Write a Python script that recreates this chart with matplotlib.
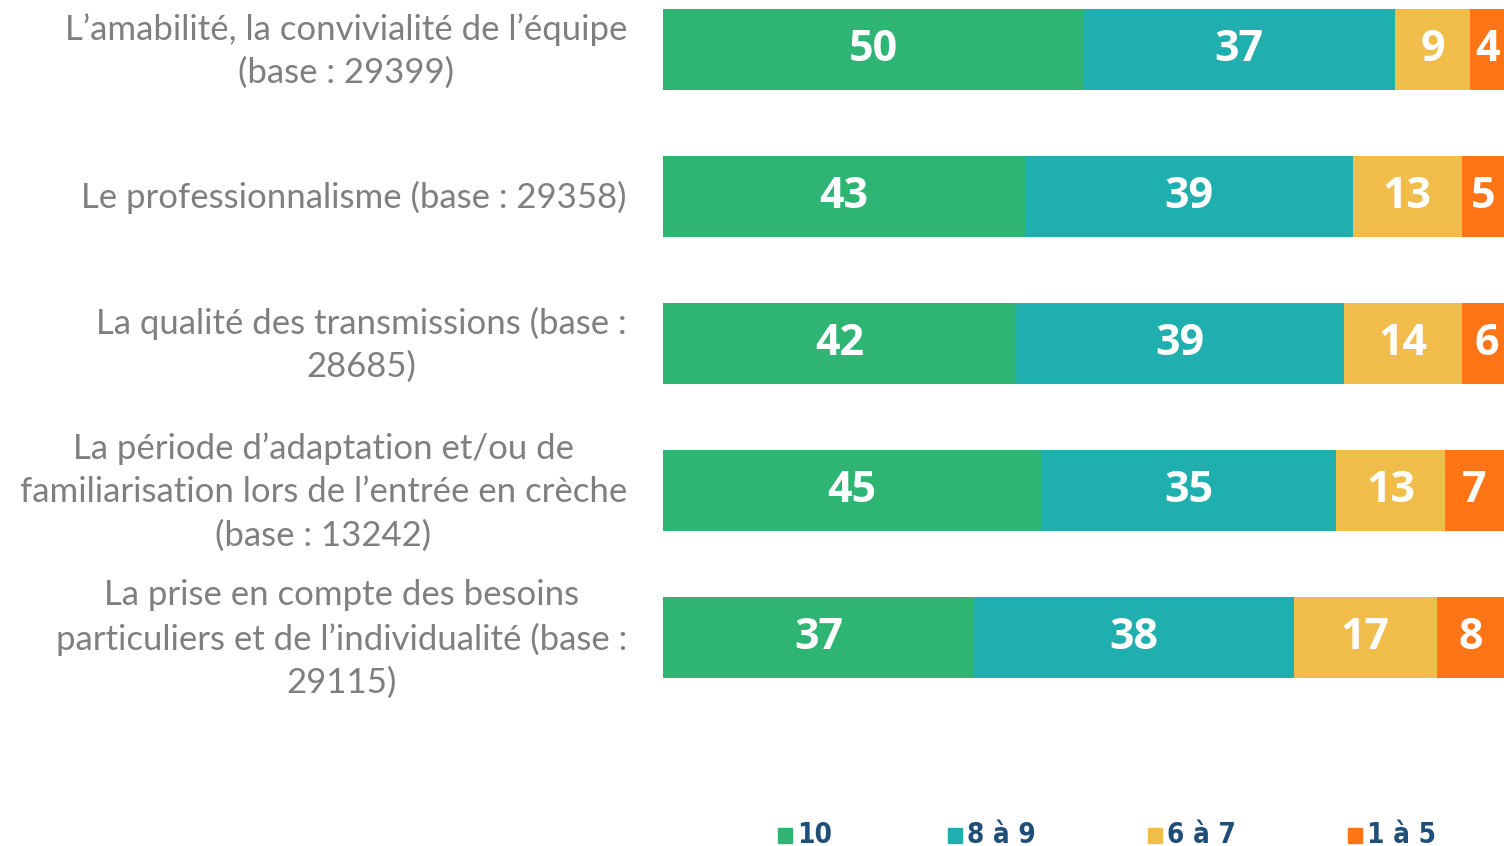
import matplotlib
matplotlib.use("Agg")
import matplotlib.pyplot as plt
from matplotlib.patches import Rectangle
import numpy as np

categories = [
    "L\u2019amabilité, la convivialité de l\u2019équipe\n(base : 29399)",
    "Le professionnalisme (base : 29358)",
    "La qualité des transmissions (base :\n28685)",
    "La période d\u2019adaptation et/ou de\nfamiliarisation lors de l\u2019entrée en crèche\n(base : 13242)",
    "La prise en compte des besoins\nparticuliers et de l\u2019individualité (base :\n29115)",
]
series_names = ["10", "8 à 9", "6 à 7", "1 à 5"]
v_10 = [50, 43, 42, 45, 37]
v_8_9 = [37, 39, 39, 35, 38]
v_6_7 = [9, 13, 14, 13, 17]
v_1_5 = [4, 5, 6, 7, 8]
colors = ["#2EB574", "#1FAFAE", "#F1BD4A", "#FF7516"]

W, H = 1504, 846
fig = plt.figure(figsize=(W / 100, H / 100), dpi=100)
ax = fig.add_axes([663 / W, (H - 720) / H, (W - 663) / W, 720 / H])

y = np.arange(len(categories))
series = [v_10, v_8_9, v_6_7, v_1_5]
left = np.zeros(len(categories))
for vals, col in zip(series, colors):
    vals = np.array(vals, dtype=float)
    ax.barh(y, vals, left=left, height=0.551, color=col, edgecolor="none")
    for yi, l, v in zip(y, left, vals):
        ax.text(l + v / 2, yi, f"{int(v)}", ha="center", va="center",
                color="white", fontsize=31, fontweight="bold",
                family=["Open Sans", "DejaVu Sans"])
    left += vals

ax.set_xlim(0, 100)
ax.set_ylim(4.561, -0.337)
ax.axis("off")

for yi, lab in zip(y, categories):
    ax.annotate(lab, xy=(0, yi), xycoords=("axes fraction", "data"),
                xytext=(-26, -1), textcoords="offset points",
                ha="right", va="center", multialignment="center",
                color="#7F7F7F", fontsize=25, family=["Lato", "DejaVu Sans"],
                linespacing=1.42)

# legend
leg_x = [778, 948, 1148, 1348]
for xp, name, col in zip(leg_x, series_names, colors):
    fig.patches.append(Rectangle((xp / W, (H - 843) / H), 14 / W, 15 / H,
                                 transform=fig.transFigure, color=col))
    fig.text((xp + 19) / W, (H - 835) / H, name, ha="left", va="center",
             color="#1F4E79", fontsize=20, fontweight="bold",
             family="DejaVu Sans", fontstretch="condensed")

fig.savefig("out.png", dpi=100)
